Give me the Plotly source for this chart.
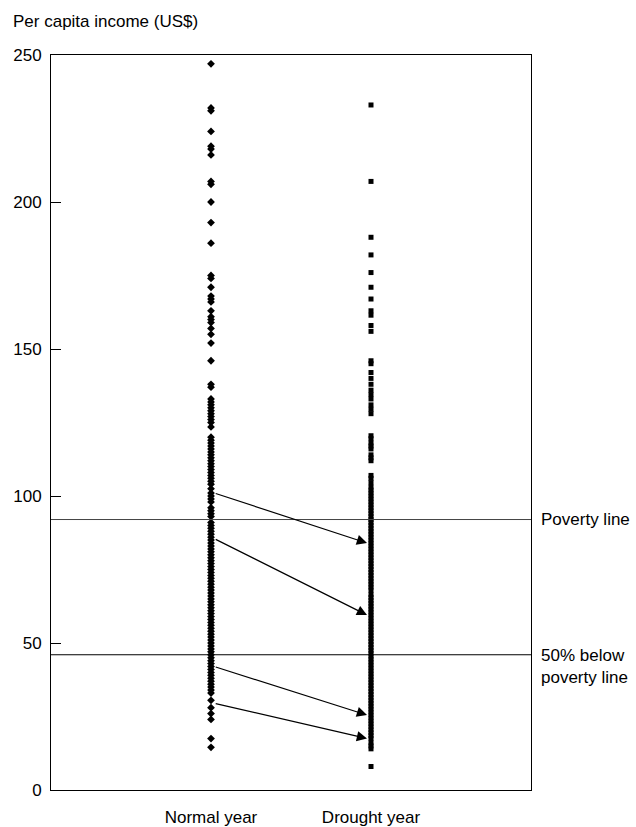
import plotly.graph_objects as go

# Categories on the horizontal axis
years = ["Normal year", "Drought year"]

# Per capita income of households (US$)
normal_income = [
    247, 232, 231, 224, 219, 218, 216, 207, 206, 200, 193, 186, 175, 174,
    171, 168, 167, 166, 163, 161, 160, 159, 157, 155, 152, 146, 138, 137,
    133, 132, 131, 130, 129, 128, 127, 126, 125, 123.5, 120, 119, 118, 117,
    116, 115, 114, 113, 112, 111, 110, 109, 108, 107, 106, 105, 104, 102.5,
    101, 100, 99, 98, 96, 95, 94, 93, 91, 90, 89, 88, 87, 86, 85, 84, 83,
    82, 81, 80, 79, 78, 77, 76, 75, 74, 73, 72, 71, 70, 69, 68, 67, 66, 65,
    64, 63, 62, 61, 60, 59, 58, 57, 56, 55, 54, 53, 52, 51, 50, 49, 48, 47,
    46, 45, 44, 43, 42, 41, 40, 39, 38, 37, 36, 35, 34, 33, 30.5, 28, 26,
    24, 17.5, 14.5,
]

drought_income = [
    233, 207, 188, 182, 176, 171, 167, 163, 161.5, 158, 156, 146, 145, 142,
    140, 138, 136, 134.5, 133, 131, 129.5, 128, 120.5, 119.5, 118, 117, 116,
    114, 113, 112, 107, 106, 104.5, 103, 102, 101, 100, 99, 98, 97, 96, 95,
    94, 93, 92, 91, 90, 89, 88, 87, 86, 85, 84, 83, 82, 81, 80, 79, 78, 77,
    76, 75, 74, 73, 72, 71, 70, 69, 68, 66.5, 65.5, 64.5, 63.5, 62.5, 61.5,
    60.5, 59.5, 58.5, 57.5, 56.5, 55.5, 54.5, 53.5, 52.5, 51.5, 50.5, 49.5,
    48.5, 47.5, 46.5, 45.5, 44.5, 43.5, 42.5, 41.5, 40.5, 39.5, 38.5, 37.5,
    36.5, 35.5, 34.5, 33.5, 32.5, 31.5, 30.5, 29.5, 28.5, 27.5, 26.5, 25.5,
    24.5, 23.5, 22.5, 21.5, 20.5, 19.5, 18.5, 17.5, 16, 15, 14, 8,
]

# Reference lines
poverty_line = 92
half_poverty_line = 46

# Example households moving from a normal to a drought year
move_from = [101, 85.5, 42, 29.5]
move_to = [84, 59.5, 25.5, 17.5]

y_ticks = [0, 50, 100, 150, 200, 250]

FONT = "Liberation Sans, Arial, sans-serif"

fig = go.Figure()

fig.add_trace(go.Scatter(
    x=[years[0]] * len(normal_income), y=normal_income, mode="markers",
    marker=dict(symbol="diamond", size=6, color="black", line=dict(width=0)),
    showlegend=False, hoverinfo="y",
))
fig.add_trace(go.Scatter(
    x=[years[1]] * len(drought_income), y=drought_income, mode="markers",
    marker=dict(symbol="square", size=5, color="black", line=dict(width=0)),
    showlegend=False, hoverinfo="y",
))

# Horizontal reference lines across the plotting area
fig.add_shape(type="line", xref="x domain", x0=0, x1=1, yref="y",
              y0=poverty_line, y1=poverty_line,
              line=dict(color="#444444", width=1))
fig.add_shape(type="line", xref="x domain", x0=0, x1=1, yref="y",
              y0=half_poverty_line, y1=half_poverty_line,
              line=dict(color="black", width=1))

fig.add_annotation(text="Poverty line", xref="paper", x=1, xanchor="left",
                   xshift=8, yref="y", y=poverty_line, yanchor="middle",
                   showarrow=False, font=dict(size=17, color="black", family=FONT))
fig.add_annotation(text="50% below<br>poverty line", xref="paper", x=1,
                   xanchor="left", xshift=8, align="left", yref="y",
                   y=half_poverty_line, yanchor="top", yshift=11,
                   showarrow=False, font=dict(size=17, color="black", family=FONT))

# Arrows showing the drop in income
for y0, y1 in zip(move_from, move_to):
    fig.add_annotation(
        x=0.975, y=y1, xref="x", yref="y",
        ax=0.02, ay=y0, axref="x", ayref="y",
        showarrow=True, arrowhead=2, arrowsize=1.7, arrowwidth=1.2,
        arrowcolor="black", text="",
    )

# Axis title placed above the y axis
fig.add_annotation(text="Per capita income (US$)", xref="paper", x=0,
                   xanchor="left", xshift=-40, yref="paper", y=1,
                   yanchor="bottom", yshift=22, showarrow=False,
                   font=dict(size=17, color="black", family=FONT))

fig.update_xaxes(
    type="category", categoryorder="array", categoryarray=years,
    range=[-1, 2], showline=True, linecolor="black", linewidth=1,
    mirror=True, ticks="", showgrid=False, zeroline=False,
    tickfont=dict(size=17, color="black", family=FONT),
    ticklabelstandoff=12, automargin=False,
)
fig.update_yaxes(
    range=[0, 250], tickvals=y_ticks, ticktext=[str(v) for v in y_ticks],
    ticks="inside", ticklen=10, tickcolor="black", tickwidth=1,
    showline=True, linecolor="black", linewidth=1, mirror=True,
    showgrid=False, zeroline=False,
    tickfont=dict(size=17, color="black", family=FONT),
    ticklabelstandoff=5, automargin=False,
)

fig.update_layout(
    width=636, height=827,
    margin=dict(l=51, r=105, t=55, b=37),
    plot_bgcolor="white", paper_bgcolor="white",
    font=dict(family=FONT, color="black"),
)

fig.write_html("out.html")
